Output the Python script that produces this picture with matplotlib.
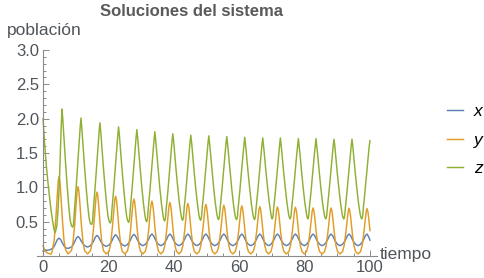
import numpy as np
import matplotlib
matplotlib.use("Agg")
import matplotlib.pyplot as plt
from matplotlib.ticker import MultipleLocator, FixedLocator

plt.rcParams['font.family'] = ['Liberation Sans', 'DejaVu Sans']

# ---------------- data ----------------
# z (green)
t_z = [0, 0.5, 1.0, 1.5, 2.0, 2.5, 3.0, 3.4, 3.7,
       4.2, 4.6, 5.0, 5.3, 5.55, 5.8, 6.05, 6.3, 6.8, 7.3, 7.8, 8.3, 8.7, 9.1, 9.35,
       9.6, 10.1, 10.6, 11.1, 11.35, 11.6, 11.85, 12.1, 12.6, 13.1, 13.6, 14.1, 14.5, 14.9, 15.15,
       15.4, 15.9, 16.4, 16.9, 17.15, 17.4, 17.65, 17.9, 18.4, 18.9, 19.4, 19.9, 20.25, 20.6, 20.85,
       21.1, 21.6, 22.1, 22.6, 22.85, 23.1, 23.35, 23.6, 24.1, 24.6, 25.1, 25.6, 25.9, 26.2, 26.45,
       26.7, 27.2, 27.7, 28.2, 28.45, 28.7, 28.95, 29.2, 29.7, 30.2, 30.7, 31.2, 31.45, 31.7, 31.95,
       32.2, 32.7, 33.2, 33.7, 33.95, 34.2, 34.45, 34.7, 35.2, 35.7, 36.2, 36.7, 36.95, 37.2, 37.45,
       37.7, 38.2, 38.7, 39.2, 39.45, 39.7, 39.95, 40.2, 40.7, 41.2, 41.7, 42.2, 42.45, 42.7, 42.95,
       43.2, 43.7, 44.2, 44.7, 44.95, 45.2, 45.45, 45.7, 46.2, 46.7, 47.2, 47.7, 47.95, 48.2, 48.45,
       48.7, 49.2, 49.7, 50.2, 50.45, 50.7, 50.95, 51.2, 51.7, 52.2, 52.7, 53.2, 53.45, 53.7, 53.95,
       54.2, 54.7, 55.2, 55.7, 55.95, 56.2, 56.45, 56.7, 57.2, 57.7, 58.2, 58.7, 58.95, 59.2, 59.45,
       59.7, 60.2, 60.7, 61.2, 61.45, 61.7, 61.95, 62.2, 62.7, 63.2, 63.7, 64.2, 64.45, 64.7, 64.95,
       65.2, 65.7, 66.2, 66.7, 66.95, 67.2, 67.45, 67.7, 68.2, 68.7, 69.2, 69.7, 69.9, 70.1, 70.35,
       70.6, 71.1, 71.6, 72.1, 72.35, 72.6, 72.85, 73.1, 73.6, 74.1, 74.6, 75.1, 75.35, 75.6, 75.85,
       76.1, 76.6, 77.1, 77.6, 77.85, 78.1, 78.35, 78.6, 79.1, 79.6, 80.1, 80.6, 80.8, 81.0, 81.25,
       81.5, 82.0, 82.5, 83.0, 83.25, 83.5, 83.75, 84.0, 84.5, 85.0, 85.5, 86.0, 86.25, 86.5, 86.75,
       87.0, 87.5, 88.0, 88.5, 88.75, 89.0, 89.25, 89.5, 90.0, 90.5, 91.0, 91.5, 91.75, 92.0, 92.25,
       92.5, 93.0, 93.5, 94.0, 94.25, 94.5, 94.75, 95.0, 95.5, 96.0, 96.5, 97.0, 97.25, 97.5, 97.75,
       98.0, 98.5, 99.0, 99.5, 99.75, 100.0]
z = [2.00, 1.62, 1.32, 1.07, 0.85, 0.65, 0.49, 0.38, 0.34,
     0.43, 0.68, 1.08, 1.50, 1.88, 2.14, 1.99, 1.80, 1.42, 1.07, 0.76, 0.52, 0.44, 0.42, 0.47,
     0.66, 0.98, 1.34, 1.69, 1.87, 2.01, 1.87, 1.70, 1.36, 1.05, 0.77, 0.55, 0.47, 0.46, 0.50,
     0.68, 0.98, 1.32, 1.64, 1.81, 1.94, 1.81, 1.65, 1.33, 1.04, 0.77, 0.57, 0.50, 0.48, 0.52,
     0.69, 0.97, 1.29, 1.60, 1.75, 1.88, 1.76, 1.60, 1.30, 1.02, 0.77, 0.57, 0.51, 0.49, 0.53,
     0.69, 0.96, 1.27, 1.57, 1.72, 1.84, 1.72, 1.57, 1.28, 1.01, 0.77, 0.58, 0.52, 0.50, 0.54,
     0.70, 0.96, 1.26, 1.55, 1.69, 1.81, 1.69, 1.55, 1.26, 1.00, 0.77, 0.59, 0.53, 0.51, 0.55,
     0.70, 0.95, 1.25, 1.53, 1.67, 1.78, 1.67, 1.53, 1.25, 1.00, 0.77, 0.60, 0.54, 0.52, 0.56,
     0.71, 0.95, 1.24, 1.51, 1.65, 1.76, 1.65, 1.51, 1.24, 0.99, 0.77, 0.59, 0.54, 0.52, 0.56,
     0.70, 0.95, 1.23, 1.50, 1.64, 1.75, 1.64, 1.51, 1.24, 0.99, 0.77, 0.60, 0.55, 0.53, 0.57,
     0.71, 0.95, 1.23, 1.50, 1.63, 1.74, 1.63, 1.50, 1.23, 0.99, 0.77, 0.60, 0.55, 0.53, 0.57,
     0.71, 0.95, 1.23, 1.49, 1.62, 1.73, 1.62, 1.49, 1.23, 0.99, 0.77, 0.60, 0.55, 0.53, 0.57,
     0.71, 0.95, 1.22, 1.48, 1.61, 1.72, 1.61, 1.48, 1.22, 0.99, 0.78, 0.61, 0.56, 0.54, 0.58,
     0.72, 0.95, 1.22, 1.48, 1.61, 1.72, 1.61, 1.48, 1.22, 0.99, 0.78, 0.61, 0.56, 0.54, 0.58,
     0.72, 0.95, 1.22, 1.48, 1.60, 1.71, 1.60, 1.48, 1.22, 0.98, 0.77, 0.61, 0.56, 0.54, 0.58,
     0.72, 0.95, 1.22, 1.48, 1.60, 1.71, 1.60, 1.48, 1.22, 0.98, 0.77, 0.61, 0.56, 0.54, 0.58,
     0.71, 0.95, 1.21, 1.47, 1.60, 1.70, 1.60, 1.47, 1.21, 0.98, 0.77, 0.61, 0.56, 0.54, 0.58,
     0.71, 0.95, 1.21, 1.47, 1.60, 1.70, 1.60, 1.47, 1.21, 0.98, 0.77, 0.61, 0.56, 0.54, 0.58,
     0.71, 0.95, 1.21, 1.47, 1.59, 1.68]

# y (orange)
t_y = [0, 0.5, 1.0, 1.5, 2.0, 2.5,
       2.9, 3.4, 3.9, 4.15, 4.4, 4.65, 4.9, 5.15, 5.4, 5.65, 5.9, 6.4, 6.9, 7.65,
       8.7, 9.2, 9.7, 9.95, 10.2, 10.45, 10.7, 10.95, 11.2, 11.45, 11.7, 12.2, 12.7, 13.6,
       14.5, 15.0, 15.5, 15.75, 16.0, 16.25, 16.5, 16.75, 17.0, 17.25, 17.5, 18.0, 18.5, 19.35,
       20.2, 20.7, 21.2, 21.45, 21.7, 21.95, 22.2, 22.45, 22.7, 22.95, 23.2, 23.7, 24.2, 25.0,
       25.8, 26.3, 26.8, 27.05, 27.3, 27.55, 27.8, 28.05, 28.3, 28.55, 28.8, 29.3, 29.8, 30.55,
       31.3, 31.8, 32.3, 32.55, 32.8, 33.05, 33.3, 33.55, 33.8, 34.05, 34.3, 34.8, 35.3, 36.05,
       36.8, 37.3, 37.8, 38.05, 38.3, 38.55, 38.8, 39.05, 39.3, 39.55, 39.8, 40.3, 40.8, 41.55,
       42.3, 42.8, 43.3, 43.55, 43.8, 44.05, 44.3, 44.55, 44.8, 45.05, 45.3, 45.8, 46.3, 47.05,
       47.8, 48.3, 48.8, 49.05, 49.3, 49.55, 49.8, 50.05, 50.3, 50.55, 50.8, 51.3, 51.8, 52.55,
       53.3, 53.8, 54.3, 54.55, 54.8, 55.05, 55.3, 55.55, 55.8, 56.05, 56.3, 56.8, 57.3, 58.05,
       58.8, 59.3, 59.8, 60.05, 60.3, 60.55, 60.8, 61.05, 61.3, 61.55, 61.8, 62.3, 62.8, 63.55,
       64.3, 64.8, 65.3, 65.55, 65.8, 66.05, 66.3, 66.55, 66.8, 67.05, 67.3, 67.8, 68.3, 69.0,
       69.7, 70.2, 70.7, 70.95, 71.2, 71.45, 71.7, 71.95, 72.2, 72.45, 72.7, 73.2, 73.7, 74.45,
       75.2, 75.7, 76.2, 76.45, 76.7, 76.95, 77.2, 77.45, 77.7, 77.95, 78.2, 78.7, 79.2, 79.9,
       80.6, 81.1, 81.6, 81.85, 82.1, 82.35, 82.6, 82.85, 83.1, 83.35, 83.6, 84.1, 84.6, 85.35,
       86.1, 86.6, 87.1, 87.35, 87.6, 87.85, 88.1, 88.35, 88.6, 88.85, 89.1, 89.6, 90.1, 90.85,
       91.6, 92.1, 92.6, 92.85, 93.1, 93.35, 93.6, 93.85, 94.1, 94.35, 94.6, 95.1, 95.6, 96.35,
       97.1, 97.6, 98.1, 98.35, 98.6, 98.85, 99.1, 99.35, 99.6, 99.85, 100.0]
y = [0.15, 0.09, 0.055, 0.04, 0.032, 0.03,
     0.09, 0.23, 0.54, 0.73, 0.93, 1.09, 1.16, 1.09, 0.93, 0.73, 0.54, 0.23, 0.09, 0.03,
     0.08, 0.21, 0.47, 0.64, 0.81, 0.95, 1.01, 0.95, 0.81, 0.64, 0.47, 0.21, 0.08, 0.03,
     0.075, 0.19, 0.435, 0.59, 0.75, 0.88, 0.93, 0.88, 0.75, 0.59, 0.435, 0.19, 0.075, 0.03,
     0.07, 0.18, 0.41, 0.55, 0.70, 0.82, 0.87, 0.82, 0.70, 0.55, 0.41, 0.18, 0.07, 0.03,
     0.07, 0.17, 0.39, 0.53, 0.67, 0.78, 0.83, 0.78, 0.67, 0.53, 0.39, 0.17, 0.07, 0.03,
     0.07, 0.17, 0.38, 0.51, 0.65, 0.75, 0.80, 0.75, 0.65, 0.51, 0.38, 0.17, 0.07, 0.03,
     0.07, 0.165, 0.37, 0.495, 0.63, 0.735, 0.78, 0.735, 0.63, 0.495, 0.37, 0.165, 0.07, 0.03,
     0.067, 0.16, 0.36, 0.485, 0.62, 0.72, 0.765, 0.72, 0.62, 0.485, 0.36, 0.16, 0.067, 0.03,
     0.066, 0.16, 0.354, 0.476, 0.606, 0.707, 0.75, 0.707, 0.606, 0.476, 0.354, 0.16, 0.066, 0.03,
     0.066, 0.158, 0.35, 0.47, 0.598, 0.697, 0.74, 0.697, 0.598, 0.47, 0.35, 0.158, 0.066, 0.03,
     0.065, 0.156, 0.345, 0.464, 0.59, 0.688, 0.73, 0.688, 0.59, 0.464, 0.345, 0.156, 0.065, 0.03,
     0.065, 0.154, 0.34, 0.458, 0.582, 0.679, 0.72, 0.679, 0.582, 0.458, 0.34, 0.154, 0.065, 0.03,
     0.064, 0.153, 0.338, 0.455, 0.578, 0.674, 0.715, 0.674, 0.578, 0.455, 0.338, 0.153, 0.064, 0.03,
     0.064, 0.152, 0.336, 0.452, 0.574, 0.669, 0.71, 0.669, 0.574, 0.452, 0.336, 0.152, 0.064, 0.03,
     0.064, 0.151, 0.332, 0.445, 0.566, 0.66, 0.70, 0.66, 0.566, 0.445, 0.332, 0.151, 0.064, 0.03,
     0.064, 0.151, 0.332, 0.445, 0.566, 0.66, 0.70, 0.66, 0.566, 0.445, 0.332, 0.151, 0.064, 0.03,
     0.063, 0.15, 0.33, 0.442, 0.562, 0.655, 0.695, 0.655, 0.562, 0.442, 0.33, 0.15, 0.063, 0.03,
     0.063, 0.149, 0.327, 0.439, 0.558, 0.65, 0.69, 0.65, 0.558, 0.439, 0.37]

# x (blue)
t_x = [0, 0.5, 1.0, 1.5, 2.0, 2.5,
       2.9, 3.4, 3.9, 4.4, 4.9, 5.4, 5.9, 6.4, 6.9, 7.65,
       8.7, 9.2, 9.7, 10.2, 10.7, 11.2, 11.7, 12.2, 12.7, 13.6,
       14.5, 15.0, 15.5, 16.0, 16.5, 17.0, 17.5, 18.0, 18.5, 19.35,
       20.2, 20.7, 21.2, 21.7, 22.2, 22.7, 23.2, 23.7, 24.2, 25.0,
       25.8, 26.3, 26.8, 27.3, 27.8, 28.3, 28.8, 29.3, 29.8, 30.55,
       31.3, 31.8, 32.3, 32.8, 33.3, 33.8, 34.3, 34.8, 35.3, 36.05,
       36.8, 37.3, 37.8, 38.3, 38.8, 39.3, 39.8, 40.3, 40.8, 41.55,
       42.3, 42.8, 43.3, 43.8, 44.3, 44.8, 45.3, 45.8, 46.3, 47.05,
       47.8, 48.3, 48.8, 49.3, 49.8, 50.3, 50.8, 51.3, 51.8, 52.55,
       53.3, 53.8, 54.3, 54.8, 55.3, 55.8, 56.3, 56.8, 57.3, 58.05,
       58.8, 59.3, 59.8, 60.3, 60.8, 61.3, 61.8, 62.3, 62.8, 63.55,
       64.3, 64.8, 65.3, 65.8, 66.3, 66.8, 67.3, 67.8, 68.3, 69.0,
       69.7, 70.2, 70.7, 71.2, 71.7, 72.2, 72.7, 73.2, 73.7, 74.45,
       75.2, 75.7, 76.2, 76.7, 77.2, 77.7, 78.2, 78.7, 79.2, 79.9,
       80.6, 81.1, 81.6, 82.1, 82.6, 83.1, 83.6, 84.1, 84.6, 85.35,
       86.1, 86.6, 87.1, 87.6, 88.1, 88.6, 89.1, 89.6, 90.1, 90.85,
       91.6, 92.1, 92.6, 93.1, 93.6, 94.1, 94.6, 95.1, 95.6, 96.35,
       97.1, 97.6, 98.1, 98.6, 99.1, 99.6, 100.0]
x = [0.07, 0.075, 0.08, 0.085, 0.09, 0.10,
     0.11, 0.14, 0.19, 0.24, 0.26, 0.24, 0.19, 0.15, 0.12, 0.11,
     0.13, 0.16, 0.21, 0.26, 0.285, 0.26, 0.215, 0.18, 0.15, 0.13,
     0.15, 0.18, 0.22, 0.275, 0.30, 0.276, 0.228, 0.188, 0.159, 0.14,
     0.16, 0.19, 0.234, 0.285, 0.31, 0.285, 0.236, 0.195, 0.165, 0.145,
     0.165, 0.196, 0.24, 0.29, 0.315, 0.29, 0.241, 0.20, 0.17, 0.15,
     0.17, 0.20, 0.244, 0.295, 0.32, 0.295, 0.244, 0.20, 0.17, 0.15,
     0.17, 0.20, 0.244, 0.295, 0.32, 0.295, 0.244, 0.20, 0.17, 0.15,
     0.17, 0.20, 0.244, 0.295, 0.32, 0.295, 0.244, 0.20, 0.17, 0.15,
     0.17, 0.20, 0.244, 0.295, 0.32, 0.295, 0.244, 0.20, 0.17, 0.15,
     0.17, 0.20, 0.244, 0.295, 0.32, 0.295, 0.244, 0.20, 0.17, 0.15,
     0.17, 0.20, 0.244, 0.295, 0.32, 0.295, 0.244, 0.20, 0.17, 0.15,
     0.17, 0.20, 0.244, 0.295, 0.32, 0.295, 0.244, 0.20, 0.17, 0.15,
     0.17, 0.20, 0.244, 0.295, 0.32, 0.295, 0.244, 0.20, 0.17, 0.15,
     0.17, 0.20, 0.244, 0.295, 0.32, 0.295, 0.244, 0.20, 0.17, 0.15,
     0.17, 0.20, 0.244, 0.295, 0.32, 0.295, 0.244, 0.20, 0.17, 0.15,
     0.17, 0.20, 0.244, 0.295, 0.32, 0.295, 0.244, 0.20, 0.17, 0.15,
     0.17, 0.20, 0.244, 0.295, 0.32, 0.295, 0.244, 0.20, 0.17, 0.15,
     0.17, 0.20, 0.244, 0.295, 0.32, 0.28, 0.23]

x_ticks = [0, 20, 40, 60, 80, 100]
y_ticks = [0.5, 1.0, 1.5, 2.0, 2.5, 3.0]
series_labels = ['x', 'y', 'z']

# ---------------- drawing ----------------
W, H = 484, 278
fig = plt.figure(figsize=(W / 100, H / 100), dpi=100)
ax = fig.add_axes([36.5 / W, 22 / H, 340 / W, 206 / H])

c_x, c_y, c_z = '#5E81B5', '#E19C24', '#8FB032'
lw = 1.05
lx, = ax.plot(t_x, x, color=c_x, lw=lw, label=series_labels[0])
ly, = ax.plot(t_y, y, color=c_y, lw=lw, label=series_labels[1])
lz, = ax.plot(t_z, z, color=c_z, lw=lw, label=series_labels[2])

ax.set_xlim(-2, 102)
ax.set_ylim(0, 3.0)

axis_col = '#8a8a8a'
label_col = '#50555a'
for s in ['top', 'right']:
    ax.spines[s].set_visible(False)
ax.spines['left'].set_position(('data', 0))
for s in ['left', 'bottom']:
    ax.spines[s].set_color(axis_col)
    ax.spines[s].set_linewidth(0.8)

ax.xaxis.set_major_locator(FixedLocator(x_ticks))
ax.xaxis.set_minor_locator(MultipleLocator(5))
ax.yaxis.set_major_locator(FixedLocator(y_ticks))
ax.yaxis.set_minor_locator(MultipleLocator(0.1))
ax.set_yticklabels([f'{v:.1f}' for v in y_ticks])
ax.set_xticklabels([str(v) for v in x_ticks])
ax.tick_params(which='both', direction='in', color=axis_col, width=0.7,
               labelcolor=label_col, labelsize=12)
ax.tick_params(which='major', length=4, pad=3)
ax.tick_params(which='minor', length=2.2)

fig.text(192 / W, 1 - 12 / H, 'Soluciones del sistema', ha='center', va='center',
         fontsize=12, fontweight='bold', color='#5a5a5a')
fig.text(7 / W, 1 - 31 / H, 'población', ha='left', va='center',
         fontsize=12.5, color=label_col)
fig.text(380 / W, 1 - 255 / H, 'tiempo', ha='left', va='center',
         fontsize=12.5, color=label_col)

leg = fig.legend(handles=[lx, ly, lz], labels=series_labels, loc='center left',
                 bbox_to_anchor=(447 / W, 1 - 140 / H), frameon=False,
                 handlelength=0.95, handletextpad=0.6, labelspacing=0.75,
                 borderpad=0, borderaxespad=0,
                 prop={'style': 'italic', 'size': 12.5})
for txt in leg.get_texts():
    txt.set_color('black')

fig.savefig('out.png', dpi=100)
